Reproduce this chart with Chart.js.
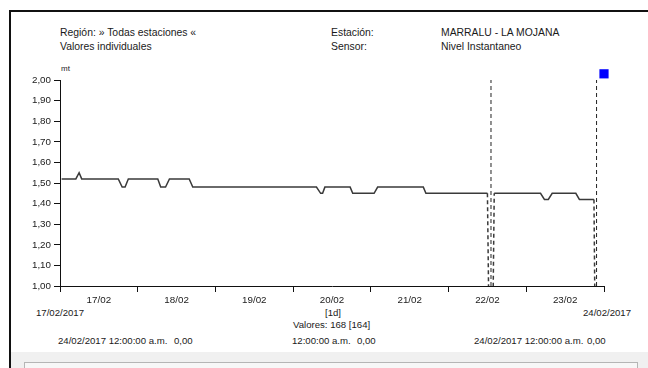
<!DOCTYPE html>
<html>
<head>
<meta charset="utf-8">
<script src="https://cdn.jsdelivr.net/npm/chart.js@4/dist/chart.umd.min.js"></script>
<style>
  body { margin: 0; width: 648px; height: 368px; overflow: hidden; position: relative; background: #fff;
         font-family: "Liberation Sans", Arial, sans-serif; color: #1a1a1a; }
  #frame { position: absolute; left: 9px; top: 10px; width: 700px; height: 400px;
           border-left: 2px solid #111; border-top: 2px solid #111; }
  #bar { position: absolute; left: 11px; top: 352px; width: 637px; height: 16px; background: #f0f0f0; }
  #box { position: absolute; left: 24px; top: 362px; width: 612px; height: 10px; border: 1px solid #b5b5b5; background: #f7f7f7; }
  .t { position: absolute; white-space: nowrap; font-size: 10.4px; line-height: 12px; }
  .s { font-size: 9.6px; }
  #chart { position: absolute; left: 0; top: 0; }
</style>
</head>
<body>
<div id="frame"></div>
<div id="bar"></div>
<div id="box"></div>

<div class="t" style="left:60px; top:27px;">Región: » Todas estaciones «</div>
<div class="t" style="left:60px; top:41px;">Valores individuales</div>
<div class="t" style="left:331px; top:27px;">Estación:</div>
<div class="t" style="left:331px; top:41px;">Sensor:</div>
<div class="t" style="left:441px; top:27px;">MARRALU - LA MOJANA</div>
<div class="t" style="left:441px; top:41px;">Nivel Instantaneo</div>
<div class="t" style="left:61px; top:63px; font-size:8px; color:#222;">mt</div>

<div class="t s" style="left:36px; top:307px;">17/02/2017</div>
<div class="t s" style="left:325px; top:307px;">[1d]</div>
<div class="t s" style="left:583px; top:307px;">24/02/2017</div>
<div class="t s" style="left:293px; top:319px;">Valores: 168 [164]</div>
<div class="t s" style="left:58px; top:335px;">24/02/2017 12:00:00 a.m.</div>
<div class="t s" style="left:174px; top:335px;">0,00</div>
<div class="t s" style="left:292px; top:335px;">12:00:00 a.m.</div>
<div class="t s" style="left:357px; top:335px;">0,00</div>
<div class="t s" style="left:474px; top:335px;">24/02/2017 12:00:00 a.m.</div>
<div class="t s" style="left:587px; top:335px;">0,00</div>

<canvas id="chart" width="648" height="368"></canvas>

<script>
// hours since 17/02/2017 00:00 and the sensor level (mt) at that moment
var hours  = [0.5, 4.9, 5.9, 6.7, 18.0, 19.2, 20.1, 21.1, 30.2, 31.1, 32.6, 33.8, 39.9, 41.0,
              79.2, 80.5, 81.1, 81.8, 89.6, 90.4, 97.0, 98.1, 112.2, 113.0, 132.0, 133.1, 134.1,
              148.4, 149.6, 150.8, 152.0, 159.3, 160.4, 164.9, 165.7];
var levels = [1.52, 1.52, 1.55, 1.52, 1.52, 1.48, 1.48, 1.52, 1.52, 1.48, 1.48, 1.52, 1.52, 1.48,
              1.48, 1.45, 1.45, 1.48, 1.48, 1.45, 1.45, 1.48, 1.48, 1.45, 1.45, 0, 1.45,
              1.45, 1.42, 1.42, 1.45, 1.45, 1.42, 1.42, 0];

// dashed markers where the record drops out
var gapHours = [133.1, 165.7];
// blue marker in the top right corner
var markerAt = [168, 2.03];

var dayLabels = ['17/02', '18/02', '19/02', '20/02', '21/02', '22/02', '23/02'];
var yTicks = [1.00, 1.10, 1.20, 1.30, 1.40, 1.50, 1.60, 1.70, 1.80, 1.90, 2.00];

Chart.defaults.font.family = '"Liberation Sans", Arial, sans-serif';
Chart.defaults.font.size = 9.8;
Chart.defaults.color = '#1a1a1a';

var levelPoints = hours.map(function(h, i) { return { x: h, y: levels[i] }; });

var datasets = [{
    data: levelPoints,
    borderColor: '#3a3a3a',
    borderWidth: 1.5,
    pointRadius: 0,
    tension: 0,
    segment: {
        borderDash: function(ctx) {
            return (ctx.p0.parsed.y === 0 || ctx.p1.parsed.y === 0) ? [4, 3] : undefined;
        }
    }
}];

gapHours.forEach(function(h) {
    datasets.push({
        data: [{ x: h, y: 1 }, { x: h, y: 2 }],
        borderColor: '#222',
        borderWidth: 1,
        borderDash: [4, 3],
        pointRadius: 0
    });
});

datasets.push({
    type: 'scatter',
    data: [{ x: markerAt[0], y: markerAt[1] }],
    pointStyle: 'rect',
    pointRadius: 6.5,
    backgroundColor: '#0000ff',
    borderColor: '#0000ff',
    borderWidth: 0,
    clip: false
});

var ctx = document.getElementById('chart').getContext('2d');
var levelChart = new Chart(ctx, {
    type: 'line',
    data: { datasets: datasets },
    options: {
        responsive: false,
        animation: false,
        devicePixelRatio: 1,
        layout: { padding: { top: 80, right: 44, bottom: 62, left: 0 } },
        plugins: { legend: { display: false }, tooltip: { enabled: false } },
        scales: {
            x: {
                type: 'linear',
                min: 0,
                max: 168,
                afterBuildTicks: function(scale) {
                    var t = [];
                    for (var i = 0; i <= 14; i++) t.push({ value: i * 12 });
                    scale.ticks = t;
                },
                afterFit: function(scale) { scale.height = 20; },
                ticks: {
                    autoSkip: false,
                    maxRotation: 0,
                    padding: 2,
                    callback: function(v) {
                        return v % 24 === 12 ? dayLabels[(v - 12) / 24] : '';
                    }
                },
                grid: {
                    drawOnChartArea: false,
                    tickLength: 6,
                    color: function(c) {
                        return c.tick && c.tick.value % 24 === 0 ? '#111' : 'rgba(0,0,0,0)';
                    }
                },
                border: { display: true, color: '#111', width: 1 }
            },
            y: {
                min: 1,
                max: 2,
                afterBuildTicks: function(scale) {
                    scale.ticks = yTicks.map(function(v) { return { value: v }; });
                },
                afterFit: function(scale) { scale.width = 60; },
                ticks: {
                    padding: 3,
                    callback: function(v) { return v.toFixed(2).replace('.', ','); }
                },
                grid: { drawOnChartArea: false, tickLength: 6, color: '#111' },
                border: { display: true, color: '#111', width: 1 }
            }
        }
    }
});
</script>
</body>
</html>
